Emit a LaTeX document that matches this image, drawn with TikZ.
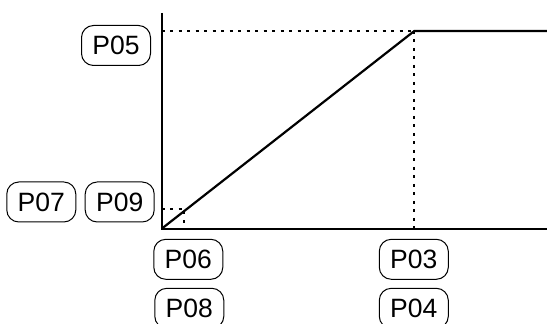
\documentclass[tikz,border=0pt]{standalone}
\usepackage{fontspec}
\setmainfont{Liberation Sans}
\begin{document}
\begin{tikzpicture}[x=1pt,y=1pt,
  pbox/.style={draw, line width=1pt, rounded corners=12pt, minimum width=69pt, minimum height=40pt, inner sep=0pt, font=\fontsize{26.5}{28}\selectfont},
  axis/.style={line width=2.2pt},
  curve/.style={line width=2.2pt, line join=miter},
  dots/.style={line width=2.2pt, dash pattern=on 2.8pt off 5.7pt}]
\clip (0,0) rectangle (547,324);
\useasboundingbox (0,0) rectangle (547,324);
\coordinate (O) at (161.7,95.3);
\coordinate (Ytop) at (161.7,311);
\coordinate (Xend) at (547,95.3);
\coordinate (C) at (414.3,293);
\coordinate (E) at (547,293);
\coordinate (Cy) at (161.7,293);
\coordinate (Cx) at (414.3,95.3);
\coordinate (S) at (184.3,115.3);
\coordinate (Sy) at (161.7,115.3);
\coordinate (Sx) at (184.3,95.3);
\node[pbox] (p05) at (116,278.5) {P05};
\node[pbox] (p07) at (41.3,122) {P07};
\node[pbox] (p09) at (119.7,122) {P09};
\node[pbox] (p06) at (188.3,64.7) {P06};
\node[pbox] (p03) at (413.8,64.7) {P03};
\node[pbox] (p08) at (189.3,15.7) {P08};
\node[pbox] (p04) at (413.8,15.7) {P04};
\draw[dots] (Cy) -- (C);
\draw[dots] (C) -- (Cx);
\draw[dots] (Sy) -- (S) -- (Sx);
\draw[axis] (Ytop) -- (O) -- (Xend);
\draw[curve] (O) -- (C) -- (E);
\end{tikzpicture}
\end{document}
